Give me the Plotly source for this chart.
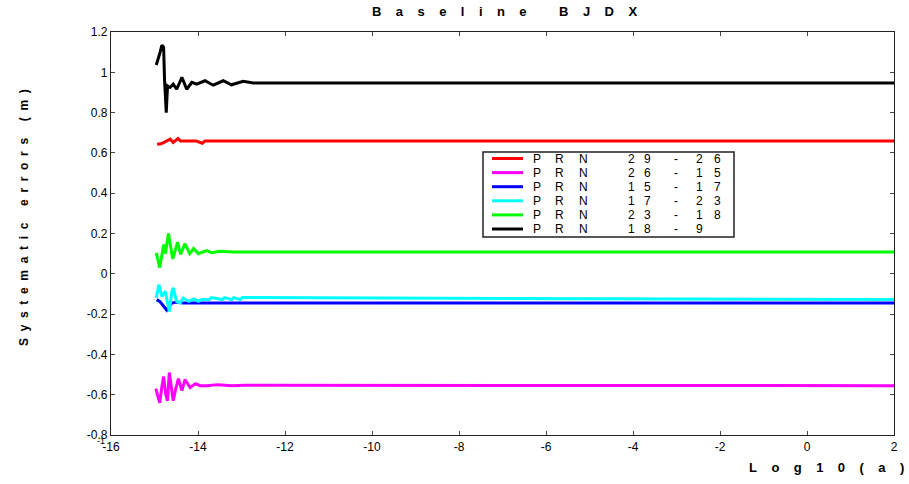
import plotly.graph_objects as go

NB = "\u00a0"

# ---- data (log10(a) vs systematic error in m) ----
black_x = [-14.96, -14.91, -14.87, -14.83, -14.79, -14.77, -14.73, -14.70, -14.64, -14.57, -14.49, -14.37,
           -14.26, -14.14, -14.03, -13.84, -13.65, -13.42, -13.23, -12.96, -12.73, 2]
black_y = [1.036, 1.066, 1.10, 1.135, 1.124, 0.966, 0.80, 0.933, 0.925, 0.941, 0.916, 0.975,
           0.916, 0.95, 0.941, 0.958, 0.936, 0.958, 0.938, 0.955, 0.947, 0.947]

red_x = [-14.94, -14.85, -14.78, -14.71, -14.64, -14.57, -14.46, -14.40, -14.25, -14.04, -13.90, -13.84, 2]
red_y = [0.643, 0.645, 0.652, 0.659, 0.668, 0.652, 0.671, 0.659, 0.659, 0.659, 0.648, 0.659, 0.659]

green_x = [-14.96, -14.88, -14.79, -14.75, -14.68, -14.58, -14.47, -14.40, -14.30, -14.19, -14.10, -13.99,
           -13.80, -13.69, -13.50, -13.19, 2]
green_y = [0.104, 0.03, 0.145, 0.10, 0.20, 0.074, 0.157, 0.096, 0.15, 0.10, 0.125, 0.10,
           0.115, 0.105, 0.112, 0.108, 0.108]

blue_x = [-14.95, -14.88, -14.83, -14.77, -14.72, -14.66, -14.60, -14.49, -14.34, 2]
blue_y = [-0.128, -0.137, -0.150, -0.17, -0.18, -0.16, -0.145, -0.14, -0.145, -0.145]

cyan_x = [-14.96, -14.90, -14.83, -14.75, -14.70, -14.66, -14.60, -14.57, -14.49, -14.41, -14.34, -14.21,
          -14.10, -13.99, -13.91, -13.74, -13.69, -13.44, -13.39, -13.23, -13.18, -13.03, -12.98, 2]
cyan_y = [-0.12, -0.054, -0.112, -0.087, -0.145, -0.187, -0.087, -0.07, -0.137, -0.145, -0.12, -0.137,
          -0.125, -0.137, -0.128, -0.128, -0.118, -0.128, -0.118, -0.128, -0.118, -0.128, -0.118, -0.128]

magenta_x = [-14.97, -14.93, -14.88, -14.83, -14.79, -14.74, -14.70, -14.66, -14.61, -14.57, -14.51, -14.45,
             -14.37, -14.30, -14.18, -14.06, -13.95, -13.80, -13.54, -13.23, -12.93, 2]
magenta_y = [-0.57, -0.60, -0.64, -0.56, -0.51, -0.60, -0.63, -0.49, -0.56, -0.63, -0.57, -0.52,
             -0.58, -0.525, -0.565, -0.545, -0.555, -0.555, -0.55, -0.555, -0.553, -0.555]

series_names = ["PRN 29-26", "PRN 26-15", "PRN 15-17", "PRN 17-23", "PRN 23-18", "PRN 18-9"]
series_colors = ["#ff0000", "#ff00ff", "#0000ff", "#00ffff", "#00ff00", "#000000"]

x_ticks = [-16, -14, -12, -10, -8, -6, -4, -2, 0, 2]
x_tick_text = ["-16", "-14", "-12", "-10", "-8", "-6", "-4", "-2", "0", "2"]
y_ticks = [-0.8, -0.6, -0.4, -0.2, 0, 0.2, 0.4, 0.6, 0.8, 1, 1.2]
y_tick_text = ["-0.8", "-0.6", "-0.4", "-0.2", "0", "0.2", "0.4", "0.6", "0.8", "1", "1.2"]

title_text = "Baseline BJDX"
y_title_text = "Systematic errors (m)"
x_title_text = "Log10(a)"

# ---- layout geometry (pixels) ----
W, H = 909, 484
L, R, T, B = 111, 894, 32, 435


def pxp(x):
    return (x - L) / (R - L)


def pyp(y):
    return (B - y) / (B - T)


def spaced(s, n):
    out = []
    for ch in s:
        out.append(NB if ch == " " else ch)
    return (NB * n).join(out)


xs = [red_x, magenta_x, blue_x, cyan_x, green_x, black_x]
ys = [red_y, magenta_y, blue_y, cyan_y, green_y, black_y]

fig = go.Figure()
for name, col, x, y in zip(series_names, series_colors, xs, ys):
    fig.add_trace(go.Scatter(x=x, y=y, mode="lines", name=name, showlegend=False,
                             line=dict(color=col, width=3)))

fig.update_layout(
    width=W, height=H,
    margin=dict(l=L, r=W - R, t=T, b=H - B),
    paper_bgcolor="white", plot_bgcolor="white",
    font=dict(family="Liberation Sans, Arial, sans-serif", size=11, color="black"),
    showlegend=False,
)
fig.update_xaxes(range=[-16, 2], tickvals=x_ticks, ticktext=x_tick_text, ticks="inside", ticklen=4,
                 showline=True, linecolor="#222222", linewidth=1.3, mirror="ticks",
                 showgrid=False, zeroline=False, tickfont=dict(size=12))
fig.update_yaxes(range=[-0.8, 1.2], tickvals=y_ticks, ticktext=y_tick_text, ticks="inside", ticklen=4,
                 showline=True, linecolor="#222222", linewidth=1.3, mirror="ticks",
                 showgrid=False, zeroline=False, tickfont=dict(size=12))

# titles
fig.add_annotation(text="<b>" + spaced(title_text, 4) + "</b>", xref="paper", yref="paper",
                   x=pxp(505), y=pyp(11), xanchor="center", yanchor="middle", showarrow=False,
                   font=dict(size=13))
fig.add_annotation(text="<b>" + spaced(y_title_text, 2) + "</b>", xref="paper", yref="paper",
                   x=pxp(24), y=pyp(218), xanchor="center", yanchor="middle",
                   textangle=-90, showarrow=False, font=dict(size=12))
fig.add_annotation(text="<b>" + spaced(x_title_text, 4) + "</b>", xref="paper", yref="paper",
                   x=pxp(906), y=pyp(467), xanchor="right", yanchor="middle",
                   showarrow=False, font=dict(size=13))
fig.add_annotation(text="-1", xref="paper", yref="paper", x=pxp(107), y=pyp(441),
                   xanchor="right", yanchor="middle", showarrow=False, font=dict(size=9))

# ---- legend drawn by hand ----
leg_x0, leg_x1, leg_y0, leg_y1 = 483, 734, 152, 237
fig.add_shape(type="rect", xref="paper", yref="paper",
              x0=pxp(leg_x0), x1=pxp(leg_x1), y0=pyp(leg_y1), y1=pyp(leg_y0),
              line=dict(color="#222222", width=1.5), fillcolor="white", layer="above")
row_y0, row_dy = 158.5, 14.1
char_cols = [537, 559, 583, 631, 647, 676, 699, 717]
for i, (name, col) in enumerate(zip(series_names, series_colors)):
    yy = row_y0 + i * row_dy
    fig.add_shape(type="line", xref="paper", yref="paper",
                  x0=pxp(492), x1=pxp(523), y0=pyp(yy), y1=pyp(yy),
                  line=dict(color=col, width=3), layer="above")
    prn, pair = name.split(" ")
    a, b = pair.split("-")
    chars = list(prn) + list(a) + ["-"] + list(b)
    for ch, cx in zip(chars, char_cols):
        fig.add_annotation(text=ch, xref="paper", yref="paper", x=pxp(cx), y=pyp(yy),
                           xanchor="center", yanchor="middle", showarrow=False,
                           font=dict(size=12, color="black"))

fig.write_html("out.html")
